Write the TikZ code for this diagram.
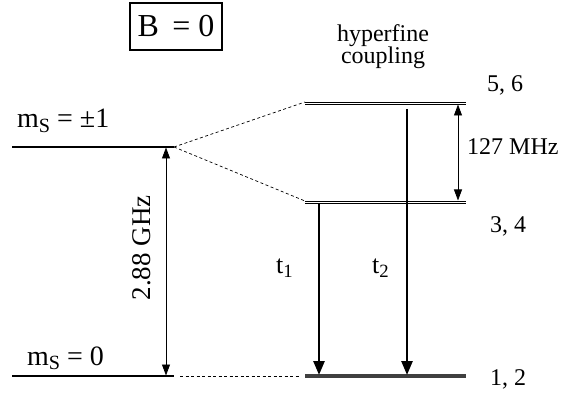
\documentclass[tikz,border=0pt]{standalone}
\usepackage{fontspec}
\setmainfont{Liberation Serif}
\usetikzlibrary{arrows.meta}
\newcommand\lowsub[1]{\raisebox{-0.35ex}{\scalebox{0.72}{#1}}}
\begin{document}
\begin{tikzpicture}[x=1pt,y=-1pt,
  lbl/.style={font=\fontsize{24}{22}\selectfont, inner sep=0pt},
  big/.style={font=\fontsize{28}{30}\selectfont, inner sep=0pt},
  thinlvl/.style={line width=1.1pt},
  dashlvl/.style={line width=0.7pt, dash pattern=on 3pt off 2.5pt},
  dbl/.style={line width=0.8pt},
  gap/.style={line width=0.8pt, {Triangle[length=11pt,width=8pt]}-{Triangle[length=11pt,width=8pt]}},
  trans/.style={line width=2.6pt, -{Triangle[length=14pt,width=11pt]}}]
\useasboundingbox (0,0) rectangle (563,393);
% left levels
\coordinate (p1L) at (12,147);
\coordinate (p1R) at (174,147);
\coordinate (p0L) at (12,376);
\coordinate (p0R) at (174,376);
\draw[thinlvl] (p1L) -- (p1R);
\draw[thinlvl] (p0L) -- (p0R);
% right levels
\coordinate (uL) at (305,102);
\coordinate (uR) at (466,102);
\coordinate (lL) at (305,201);
\coordinate (lR) at (466,201);
\coordinate (gL) at (305,376);
\coordinate (gR) at (466,376);
\draw[dbl] (uL) -- (uR);
\draw[dbl] ([yshift=-2.5pt]uL) -- ([yshift=-2.5pt]uR);
\draw[dbl] (lL) -- (lR);
\draw[dbl] ([yshift=-2.5pt]lL) -- ([yshift=-2.5pt]lR);
\draw[line width=3.2pt, black!75] (gL) -- (gR);
% dashed connections
\draw[dashlvl] (p1R) -- (uL);
\draw[dashlvl] (p1R) -- (lL);
\coordinate (d0a) at (180,376);
\coordinate (d0b) at (300,376);
\draw[dashlvl] (d0a) -- (d0b);
% gap arrows
\coordinate (g1t) at (166,147.5);
\coordinate (g1b) at (166,375.5);
\draw[gap] (g1t) -- (g1b);
\coordinate (g2t) at (458,104.5);
\coordinate (g2b) at (458,200.5);
\draw[gap] (g2t) -- (g2b);
% transitions
\coordinate (t1s) at (319,203);
\coordinate (t1e) at (319,375);
\draw[trans] (t1s) -- (t1e);
\coordinate (t2s) at (407,109);
\coordinate (t2e) at (407,375);
\draw[trans] (t2s) -- (t2e);
% labels
\node[draw, line width=1.1pt, minimum width=92pt, minimum height=47pt, inner sep=0pt,
      font=\fontsize{32}{34}\selectfont] (B) at (176,26.5) {B \,= 0};
\node[lbl, anchor=base] (hf1) at (383,42) {hyperfine};
\node[lbl, anchor=base] (hf2) at (383,64) {coupling};
\node[big, anchor=base west] (ms1) at (17,128) {m\lowsub{S} = ±1};
\node[big, anchor=base west] (ms0) at (27,365) {m\lowsub{S} = 0};
\node[lbl, font=\fontsize{27}{30}\selectfont, rotate=90] (ghz) at (142,248) {2.88 GHz};
\node[lbl, anchor=base west] (mhz) at (467,155) {127 MHz};
\node[lbl, anchor=base west] (l56) at (487,92) {5, 6};
\node[lbl, anchor=base west] (l34) at (490,233) {3, 4};
\node[lbl, anchor=base west] (l12) at (490,385) {1, 2};
\node[lbl, font=\fontsize{26}{28}\selectfont, anchor=base west] (t1) at (276,273) {t\lowsub{1}};
\node[lbl, font=\fontsize{26}{28}\selectfont, anchor=base west] (t2) at (372,273) {t\lowsub{2}};
\end{tikzpicture}
\end{document}
